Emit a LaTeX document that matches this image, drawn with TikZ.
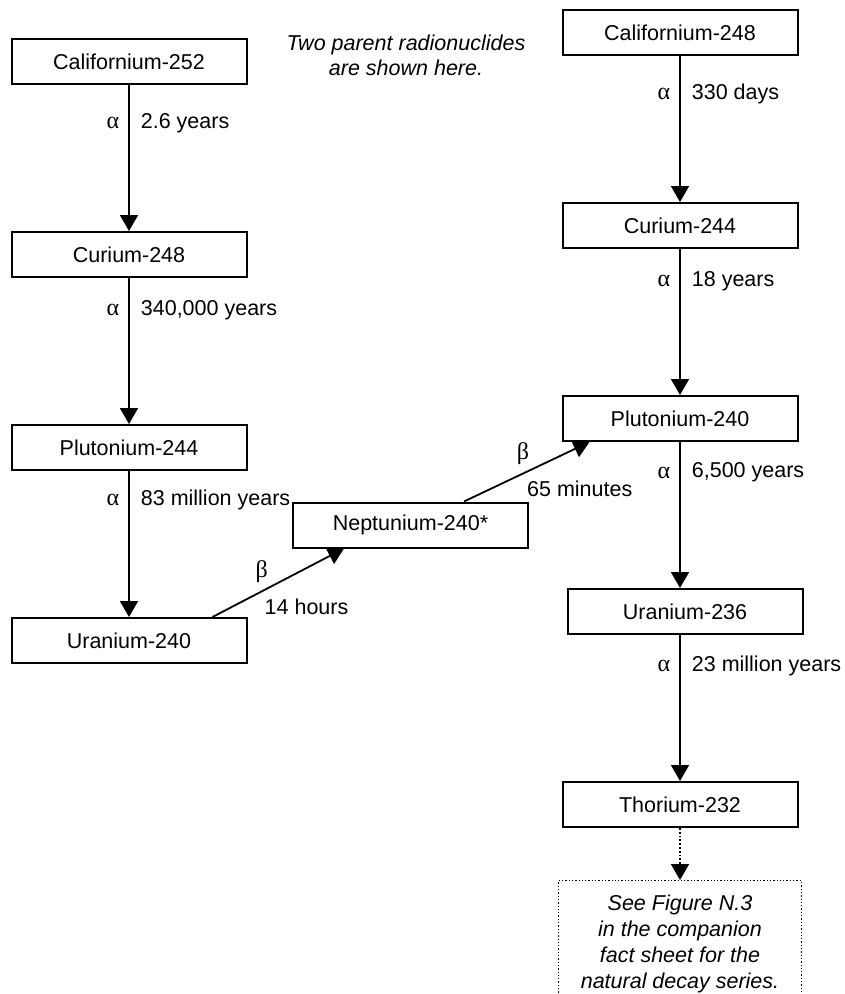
\documentclass[tikz,border=0pt]{standalone}
\usepackage{fontspec}
\setmainfont{Liberation Sans}
\newfontfamily\greekfont{Liberation Serif}
\usetikzlibrary{
  arrows.meta,
  positioning
}

\begin{document}
\begin{tikzpicture}[
  x=1pt,y=1pt,
  nuclide/.style={draw,line width=2pt,minimum width=235pt,minimum height=45pt,
                  inner sep=0pt,font=\fontsize{21.5}{25}\selectfont},
  note/.style   ={draw,dotted,line width=1.3pt,minimum width=243pt,minimum height=126pt,
                  align=center,font=\fontsize{21.5}{26}\selectfont\itshape},
  arr/.style    ={-{Triangle[length=16pt,width=18pt]},line width=1.8pt},
  lbl/.style    ={font=\fontsize{21.5}{25}\selectfont,inner sep=2pt},
  greek/.style  ={font=\fontsize{24}{25}\greekfont,inner sep=2pt},
  node distance=146pt,
]
\path[use as bounding box,clip] (0,0) rectangle (845,-994);

% left chain
\node[nuclide] (cf252) at (129,-61.5) {Californium-252};
\node[nuclide, below=of cf252] (cm248) {Curium-248};
\node[nuclide, below=of cm248] (pu244) {Plutonium-244};
\node[nuclide, below=of pu244] (u240)  {Uranium-240};

% right chain
\node[nuclide] (cf248) at (680,-32.5) {Californium-248};
\node[nuclide, below=of cf248] (cm244) {Curium-244};
\node[nuclide, below=of cm244] (pu240) {Plutonium-240};
\node[nuclide, below=of pu240, xshift=5pt] (u236) {Uranium-236};
\node[nuclide, below=of u236, xshift=-5pt] (th232) {Thorium-232};
\node[note, below=52pt of th232] (seefig)
  {See Figure N.3\\in the companion\\fact sheet for the\\natural decay series.};

\node[nuclide] (np240) at (410.5,-525) {Neptunium-240*};
\node[align=center,font=\fontsize{21.5}{25}\selectfont\itshape] (title) at (406,-55.5)
  {Two parent radionuclides\\are shown here.};

% alpha decays
\draw[arr] (cf252.south) -- (cf252.south |- cm248.north)
  node[greek,pos=.26,left=7pt]{α} node[lbl,pos=.26,right=9pt]{2.6 years};
\draw[arr] (cm248.south) -- (cm248.south |- pu244.north)
  node[greek,pos=.22,left=7pt]{α} node[lbl,pos=.22,right=9pt]{340,000 years};
\draw[arr] (pu244.south) -- (pu244.south |- u240.north)
  node[greek,pos=.2,left=7pt]{α} node[lbl,pos=.2,right=9pt]{83 million years};
\draw[arr] (cf248.south) -- (cf248.south |- cm244.north)
  node[greek,pos=.26,left=7pt]{α} node[lbl,pos=.26,right=9pt]{330 days};
\draw[arr] (cm244.south) -- (cm244.south |- pu240.north)
  node[greek,pos=.22,left=7pt]{α} node[lbl,pos=.22,right=9pt]{18 years};
\draw[arr] (pu240.south) -- (pu240.south |- u236.north)
  node[greek,pos=.21,left=7pt]{α} node[lbl,pos=.21,right=9pt]{6,500 years};
\draw[arr] (u236.south -| th232) -- (th232.north)
  node[greek,pos=.21,left=7pt]{α} node[lbl,pos=.21,right=9pt]{23 million years};

% beta decays
\draw[arr] ([xshift=83.5pt]u240.north) -- ([xshift=-66.5pt]np240.south)
  node[greek,pos=.375,above=6pt]{β}
  node[lbl,pos=.375,anchor=north west,yshift=-5pt]{14 hours};
\draw[arr] ([xshift=53.5pt]np240.north) -- ([xshift=-90.5pt]pu240.south)
  node[greek,pos=.47,above=6pt]{β}
  node[lbl,pos=.48,anchor=north west,yshift=-5pt]{65 minutes};

\draw[arr,dotted] (th232.south) -- (seefig.north);
\end{tikzpicture}
\end{document}
